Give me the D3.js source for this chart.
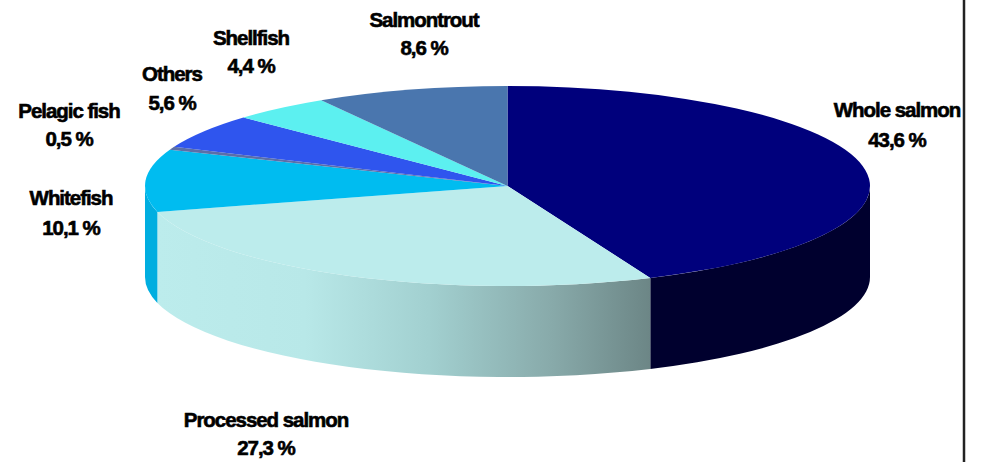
<!DOCTYPE html>
<html>
<head>
<meta charset="utf-8">
<title>Seafood exports by product group</title>
<script src="https://cdn.jsdelivr.net/npm/d3@7"></script>
<style>
  html, body { margin: 0; padding: 0; background: #fff; }
  svg { display: block; }
  text { font-family: "Liberation Sans", Arial, sans-serif; font-weight: 700; fill: #000; stroke: #000; stroke-width: 0.6px; letter-spacing: -1.05px; text-anchor: middle; }
</style>
</head>
<body>
<svg id="chart" width="981" height="462"></svg>
<script>
// Product groups and their share of the total, clockwise from twelve o'clock
const categories = ["Whole salmon", "Processed salmon", "Whitefish", "Pelagic fish", "Others", "Shellfish", "Salmontrout"];
const shares = [43.6, 27.3, 10.1, 0.5, 5.6, 4.4, 8.6];
const topColors = ["#00007c", "#bcecec", "#00bcf0", "#5b6fa8", "#2f55ee", "#5cf0f0", "#4a76ae"];
const wallColors = ["#00002e", "url(#processedWall)", "#00aee0", "#000", "#000", "#000", "#000"];

// Label anchors: centre x, first baseline, second baseline
const labelX = [897, 266, 71, 69, 172, 251, 424];
const labelY1 = [117, 427, 205, 118, 81, 45, 27];
const labelY2 = [147, 455, 235, 146, 110, 73, 55];

// Disc geometry
const cx = 507.5, cy = 186, rx = 362.5, ry = 100, depth = 91;

const svg = d3.select("#chart");
const slices = d3.pie().sort(null).value(d => d)(shares);

const px = a => cx + rx * Math.sin(a);
const py = a => cy - ry * Math.cos(a);

// Gradient along the front wall of the processed salmon slice
const pSlice = slices[1];
const grad = svg.append("defs").append("linearGradient")
  .attr("id", "processedWall")
  .attr("gradientUnits", "userSpaceOnUse")
  .attr("x1", px(pSlice.endAngle)).attr("x2", px(pSlice.startAngle))
  .attr("y1", 0).attr("y2", 0);
grad.selectAll("stop")
  .data([[0, "#bcecec"], [0.3, "#b8e8e8"], [0.55, "#a2d0d0"], [0.8, "#88aaaa"], [1, "#6c8686"]])
  .join("stop")
  .attr("offset", d => d[0])
  .attr("stop-color", d => d[1]);

// Visible part of the rim: only the front half of the ellipse shows
function wallPath(s) {
  const a0 = Math.max(s.startAngle, Math.PI / 2);
  const a1 = Math.min(s.endAngle, 3 * Math.PI / 2);
  if (a1 <= a0) return null;
  return `M${px(a0)},${py(a0)}A${rx},${ry} 0 0 1 ${px(a1)},${py(a1)}` +
         `L${px(a1)},${py(a1) + depth}A${rx},${ry} 0 0 0 ${px(a0)},${py(a0) + depth}Z`;
}

svg.append("g").selectAll("path")
  .data(slices.filter(s => wallPath(s)))
  .join("path")
  .attr("d", wallPath)
  .attr("fill", d => wallColors[d.index]);

// Top face: a circular pie squashed into an ellipse
const arc = d3.arc().innerRadius(0).outerRadius(rx);
svg.append("g")
  .attr("transform", `translate(${cx},${cy}) scale(1,${ry / rx})`)
  .selectAll("path")
  .data(slices)
  .join("path")
  .attr("d", arc)
  .attr("fill", d => topColors[d.index]);

// Category name with its share underneath
const labels = svg.append("g").selectAll("g")
  .data(categories)
  .join("g")
  .attr("font-size", 20.5);
labels.append("text")
  .attr("x", (d, i) => labelX[i]).attr("y", (d, i) => labelY1[i])
  .text(d => d);
labels.append("text")
  .attr("x", (d, i) => labelX[i]).attr("y", (d, i) => labelY2[i])
  .text((d, i) => shares[i].toFixed(1).replace(".", ",") + " %");

// Frame rule down the right-hand side
svg.append("line")
  .attr("x1", 964).attr("x2", 964)
  .attr("y1", 0).attr("y2", 462)
  .attr("stroke", "#222").attr("stroke-width", 2.5);
</script>
</body>
</html>
